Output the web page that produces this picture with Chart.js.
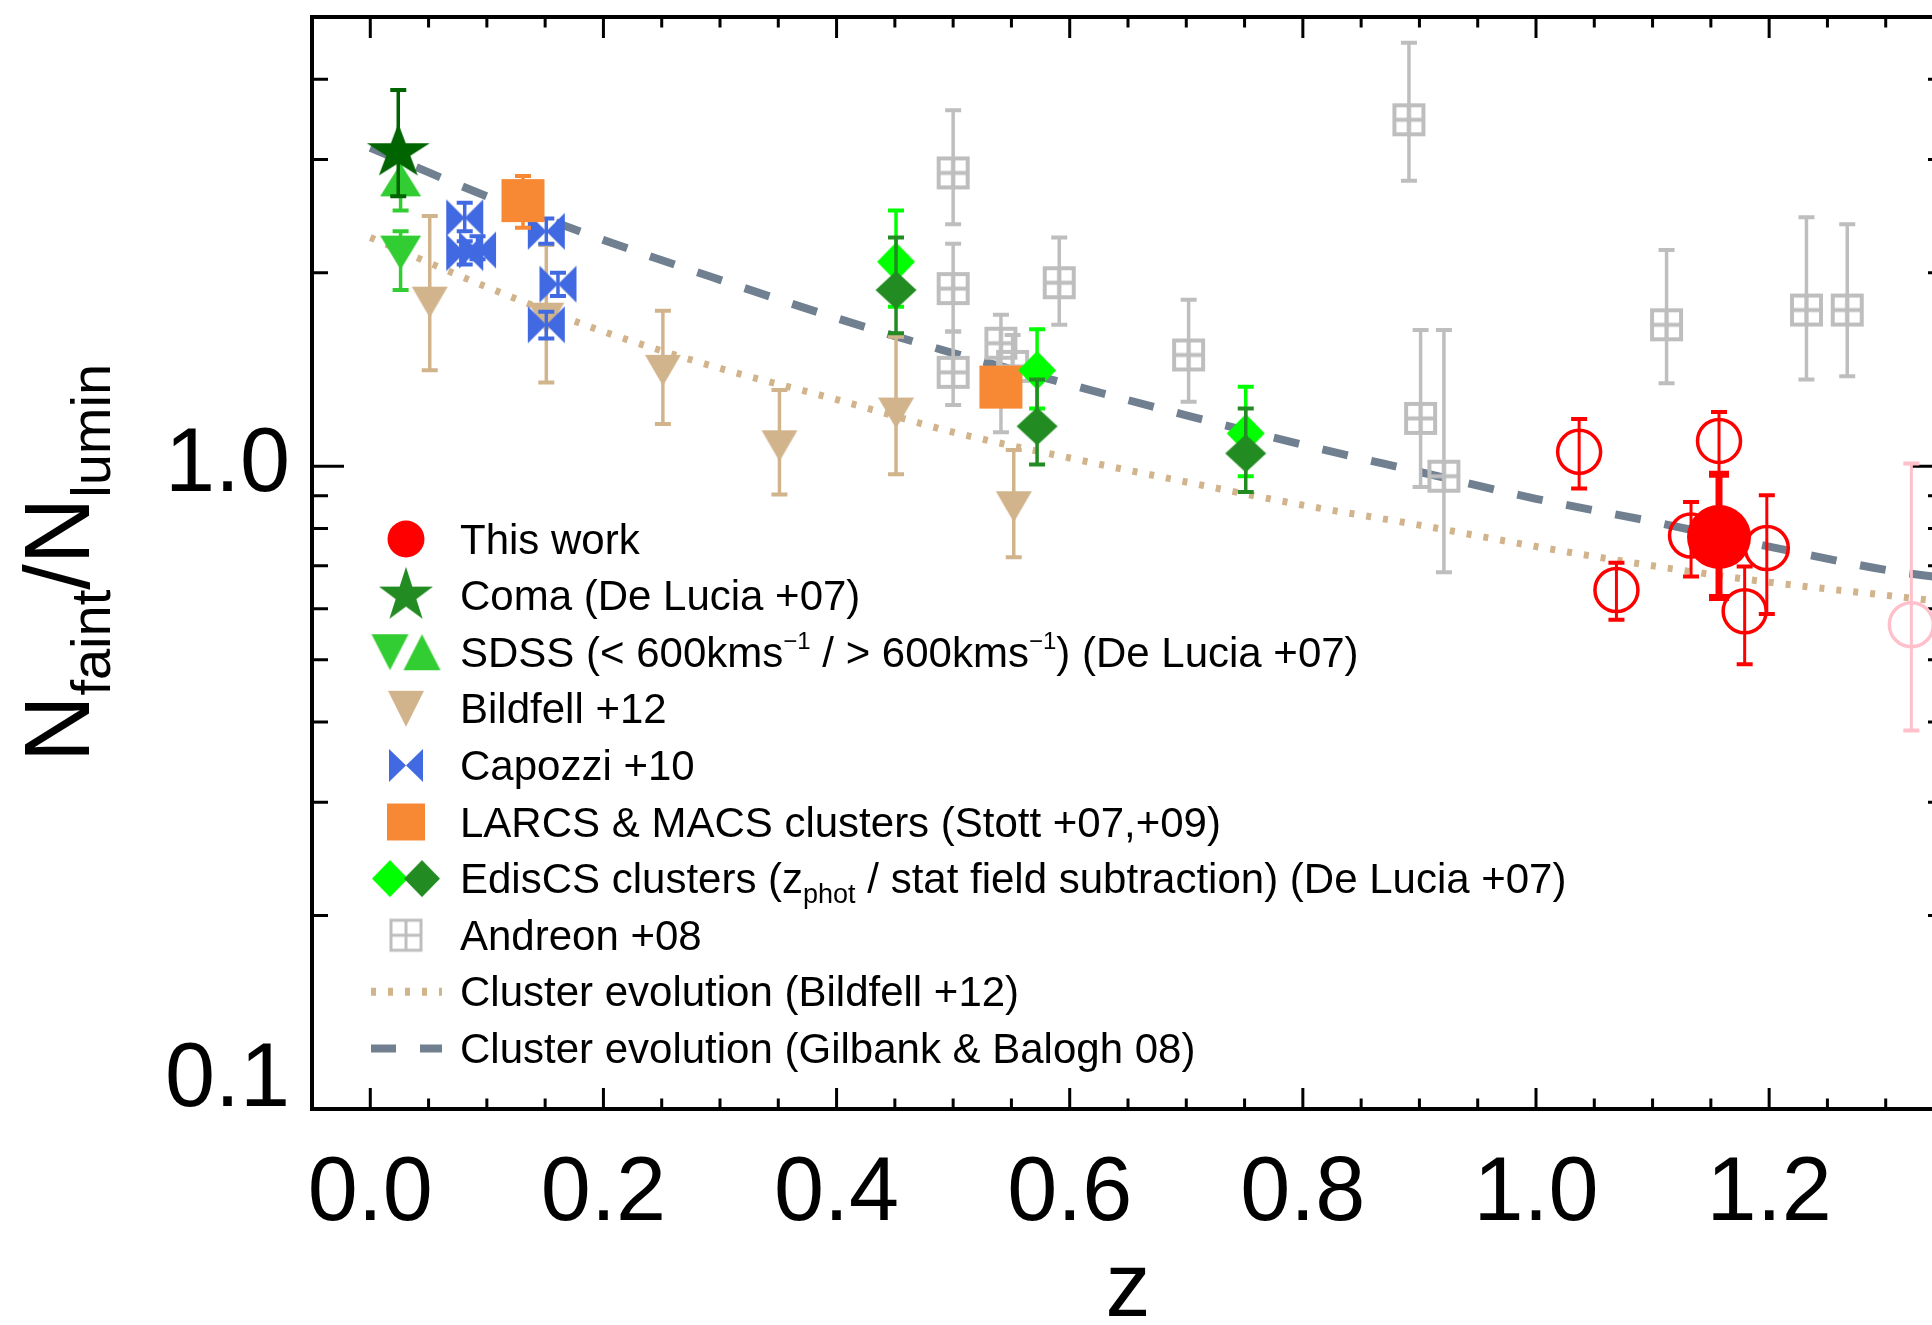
<!DOCTYPE html>
<html>
<head>
<meta charset="utf-8">
<title>Nfaint/Nlumin vs z</title>
<script src="https://cdn.jsdelivr.net/npm/chart.js@4.4.1/dist/chart.umd.min.js"></script>
<style>
  html, body { margin: 0; padding: 0; background: #fff; overflow: hidden; }
</style>
</head>
<body>
<canvas id="myChart" width="1990" height="1345"></canvas>
<script>
// values (z, ratio, lower / upper error bar ends)
const thisWorkZ = [1.157];
const thisWorkV = [0.776];
const thisWorkLo = [0.625];
const thisWorkHi = [0.972];

const clustersZ = [1.037, 1.069, 1.157, 1.133, 1.198, 1.179];
const clustersV = [1.053, 0.642, 1.095, 0.780, 0.746, 0.595];
const clustersLo = [0.923, 0.577, 0.975, 0.674, 0.589, 0.492];
const clustersHi = [1.184, 0.708, 1.215, 0.880, 0.901, 0.698];

const pinkZ = [1.322];
const pinkV = [0.567];
const pinkLo = [0.388];
const pinkHi = [1.01];

const comaZ = [0.024];
const comaV = [3.08];
const comaLo = [2.63];
const comaHi = [3.85];

const sdssLowZ = [0.026];
const sdssLowV = [2.15];
const sdssLowLo = [1.88];
const sdssLowHi = [2.32];

const sdssHighZ = [0.026];
const sdssHighV = [2.79];
const sdssHighLo = [2.50];
const sdssHighHi = [3.10];

const bildfellZ = [0.051, 0.151, 0.251, 0.351, 0.451, 0.552];
const bildfellV = [1.80, 1.70, 1.41, 1.076, 1.21, 0.865];
const bildfellLo = [1.41, 1.35, 1.163, 0.904, 0.972, 0.722];
const bildfellHi = [2.45, 2.21, 1.745, 1.314, 1.59, 1.06];

const capozziZ = [0.081, 0.081, 0.092, 0.151, 0.161, 0.151];
const capozziV = [2.435, 2.15, 2.17, 2.32, 1.92, 1.66];
const capozziLo = [2.32, 2.06, 2.10, 2.22, 1.84, 1.58];
const capozziHi = [2.57, 2.24, 2.28, 2.43, 2.00, 1.74];

const larcsZ = [0.131, 0.541];
const larcsV = [2.59, 1.328];
const larcsLo = [2.35, 1.25];
const larcsHi = [2.83, 1.41];

const edisPhotZ = [0.451, 0.572, 0.751];
const edisPhotV = [2.08, 1.41, 1.125];
const edisPhotLo = [1.77, 1.23, 0.965];
const edisPhotHi = [2.50, 1.634, 1.33];

const edisStatZ = [0.451, 0.572, 0.751];
const edisStatV = [1.88, 1.154, 1.047];
const edisStatLo = [1.61, 1.006, 0.912];
const edisStatHi = [2.27, 1.365, 1.23];

const andreonZ = [0.50, 0.50, 0.50, 0.541, 0.551, 0.591, 0.702, 0.891, 0.901, 0.921, 1.112, 1.232, 1.267];
const andreonV = [2.86, 1.89, 1.40, 1.554, 1.43, 1.93, 1.49, 3.46, 1.187, 0.965, 1.66, 1.75, 1.75];
const andreonLo = [2.38, 1.62, 1.245, 1.13, 1.30, 1.66, 1.26, 2.78, 0.928, 0.684, 1.346, 1.365, 1.38];
const andreonHi = [3.58, 2.22, 1.62, 1.72, 1.60, 2.27, 1.815, 4.56, 1.63, 1.63, 2.17, 2.44, 2.38];

// evolution curves, read at these redshifts
const curveZ = [0, 0.1, 0.2, 0.3, 0.4, 0.5, 0.6, 0.7, 0.8, 0.9, 1.0, 1.1, 1.2, 1.3, 1.35];
const gilbankV = [3.13, 2.63, 2.25, 1.95, 1.70, 1.50, 1.34, 1.20, 1.08, 0.98, 0.89, 0.82, 0.75, 0.69, 0.67];
const bildfellFitV = [2.27, 1.90, 1.62, 1.42, 1.27, 1.13, 1.03, 0.945, 0.87, 0.81, 0.75, 0.70, 0.66, 0.63, 0.615];

// axes
const zMajor = [0, 0.2, 0.4, 0.6, 0.8, 1.0, 1.2];
const zLabels = ['0.0', '0.2', '0.4', '0.6', '0.8', '1.0', '1.2'];
const zMinor = [0.05, 0.1, 0.15, 0.25, 0.3, 0.35, 0.45, 0.5, 0.55, 0.65, 0.7, 0.75, 0.85, 0.9, 0.95, 1.05, 1.1, 1.15, 1.25, 1.3];
const yMajor = [0.1, 1];
const yLabels = ['0.1', '1.0'];
const yMinor = [0.2, 0.3, 0.4, 0.5, 0.6, 0.7, 0.8, 0.9, 2, 3, 4];

const FONT = '"Liberation Sans", Arial, Helvetica, sans-serif';

const RED = '#FF0000', PINK = '#FFC0CB', DKGREEN = '#006400', FOREST = '#228B22',
      LIMEGREEN = '#32CD32', LIME = '#00FF00', TAN = '#D2B48C', BLUE = '#4169E1',
      ORANGE = '#F78935', SILVER = '#BEBEBE', SLATE = '#708090';

function pts(zs, vs) {
  return zs.map((z, i) => ({x: z, y: vs[i]}));
}

// small canvases used as point symbols
function symbol(shape, w, h, color, lw) {
  const pad = 4;
  const c = document.createElement('canvas');
  c.width = Math.round(w + 2 * pad);
  c.height = Math.round(h + 2 * pad);
  const g = c.getContext('2d');
  g.translate(c.width / 2, c.height / 2);
  const hw = w / 2, hh = h / 2;
  g.fillStyle = color;
  g.strokeStyle = color;
  g.beginPath();
  if (shape === 'triDown') {
    g.moveTo(-hw, -hh); g.lineTo(hw, -hh); g.lineTo(0, hh); g.closePath();
  } else if (shape === 'triUp') {
    g.moveTo(-hw, hh); g.lineTo(hw, hh); g.lineTo(0, -hh); g.closePath();
  } else if (shape === 'bowtie') {
    g.moveTo(-hw, -hh); g.lineTo(0, 0); g.lineTo(-hw, hh); g.closePath();
    g.moveTo(hw, -hh); g.lineTo(0, 0); g.lineTo(hw, hh); g.closePath();
  } else if (shape === 'diamond') {
    g.moveTo(0, -hh); g.lineTo(hw, 0); g.lineTo(0, hh); g.lineTo(-hw, 0); g.closePath();
  } else if (shape === 'square') {
    g.rect(-hw, -hh, w, h);
  } else if (shape === 'star') {
    const rx = w / 1.902, ry = h / 1.809;
    for (let k = 0; k < 10; k++) {
      const ang = -Math.PI / 2 + k * Math.PI / 5;
      const r = k % 2 === 0 ? 1 : 0.382;
      const px = Math.cos(ang) * r * rx, py = Math.sin(ang) * r * ry;
      if (k === 0) g.moveTo(px, py); else g.lineTo(px, py);
    }
    g.closePath();
  }
  if (shape === 'box') {
    g.lineWidth = lw;
    g.strokeRect(-hw, -hh, w, h);
    g.moveTo(0, -hh); g.lineTo(0, hh);
    g.moveTo(-hw, 0); g.lineTo(hw, 0);
    g.stroke();
  } else {
    g.fill();
  }
  return c;
}

const sym = {
  star: symbol('star', 63, 52, DKGREEN),
  sdssDown: symbol('triDown', 41, 34, LIMEGREEN),
  sdssUp: symbol('triUp', 41, 33, LIMEGREEN),
  bildfell: symbol('triDown', 36, 31, TAN),
  capozzi: symbol('bowtie', 37, 37, BLUE),
  larcs: symbol('square', 43, 43, ORANGE),
  edisPhot: symbol('diamond', 38, 39, LIME),
  edisStat: symbol('diamond', 41, 38, FOREST),
  andreon: symbol('box', 29, 29, SILVER, 4)
};
const legSym = {
  star: symbol('star', 54, 52, FOREST),
  sdssDown: symbol('triDown', 37, 36, LIMEGREEN),
  sdssUp: symbol('triUp', 37, 36, LIMEGREEN),
  bildfell: symbol('triDown', 36, 36, TAN),
  capozzi: symbol('bowtie', 34, 33, BLUE),
  larcs: symbol('square', 38, 37, ORANGE),
  edisPhot: symbol('diamond', 36, 37, LIME),
  edisStat: symbol('diamond', 36, 37, FOREST),
  andreon: symbol('box', 30, 30, SILVER, 3)
};

function scatterSet(label, zs, vs, lo, hi, style, color, order, extra) {
  return Object.assign({
    label: label,
    data: pts(zs, vs),
    errLo: lo,
    errHi: hi,
    errColor: color,
    showLine: false,
    pointStyle: style,
    pointRadius: 12,
    pointBorderWidth: 0,
    backgroundColor: color,
    borderColor: color,
    order: order
  }, extra || {});
}

const datasets = [
  {
    type: 'line', label: 'Cluster evolution (Gilbank & Balogh 08)',
    data: pts(curveZ, gilbankV),
    borderColor: SLATE, borderWidth: 8, borderDash: [26, 24],
    pointRadius: 0, fill: false, cubicInterpolationMode: 'monotone', order: 100
  },
  {
    type: 'line', label: 'Cluster evolution (Bildfell +12)',
    data: pts(curveZ, bildfellFitV),
    borderColor: TAN, borderWidth: 7, borderDash: [5, 12],
    pointRadius: 0, fill: false, cubicInterpolationMode: 'monotone', order: 99
  },
  scatterSet('Andreon +08', andreonZ, andreonV, andreonLo, andreonHi, sym.andreon, SILVER, 90),
  scatterSet('Bildfell +12', bildfellZ, bildfellV, bildfellLo, bildfellHi, sym.bildfell, TAN, 80),
  scatterSet('SDSS >600', sdssHighZ, sdssHighV, sdssHighLo, sdssHighHi, sym.sdssUp, LIMEGREEN, 75),
  scatterSet('SDSS <600', sdssLowZ, sdssLowV, sdssLowLo, sdssLowHi, sym.sdssDown, LIMEGREEN, 74),
  scatterSet('Coma', comaZ, comaV, comaLo, comaHi, sym.star, DKGREEN, 70),
  scatterSet('Capozzi +10', capozziZ, capozziV, capozziLo, capozziHi, sym.capozzi, BLUE, 60),
  scatterSet('LARCS & MACS', larcsZ, larcsV, larcsLo, larcsHi, sym.larcs, ORANGE, 50),
  scatterSet('EdisCS zphot', edisPhotZ, edisPhotV, edisPhotLo, edisPhotHi, sym.edisPhot, LIME, 40),
  scatterSet('EdisCS stat', edisStatZ, edisStatV, edisStatLo, edisStatHi, sym.edisStat, FOREST, 35),
  scatterSet('pink', pinkZ, pinkV, pinkLo, pinkHi, 'circle', PINK, 20,
    {pointRadius: 22, pointBorderWidth: 3.5, backgroundColor: 'rgba(0,0,0,0)', errWidth: 3}),
  scatterSet('clusters', clustersZ, clustersV, clustersLo, clustersHi, 'circle', RED, 10,
    {pointRadius: 21.5, pointBorderWidth: 3.5, backgroundColor: 'rgba(0,0,0,0)', errWidth: 3}),
  scatterSet('This work', thisWorkZ, thisWorkV, thisWorkLo, thisWorkHi, 'circle', RED, 1,
    {pointRadius: 32, errWidth: 7, capHalf: 10, capWidth: 7})
];

// box, inward ticks on all four sides
const framePlugin = {
  id: 'frame',
  beforeDatasetsDraw(chart) {
    const {ctx, chartArea: a, scales: {x, y}} = chart;
    ctx.save();
    ctx.strokeStyle = '#000';
    ctx.lineWidth = 3;
    ctx.beginPath();
    const xt = (v, len) => {
      const px = x.getPixelForValue(v);
      ctx.moveTo(px, a.bottom); ctx.lineTo(px, a.bottom - len);
      ctx.moveTo(px, a.top); ctx.lineTo(px, a.top + len);
    };
    const yt = (v, len) => {
      const py = y.getPixelForValue(v);
      ctx.moveTo(a.left, py); ctx.lineTo(a.left + len, py);
      ctx.moveTo(a.right, py); ctx.lineTo(a.right - len, py);
    };
    zMajor.forEach(v => xt(v, 21));
    zMinor.forEach(v => xt(v, 10.5));
    yMajor.forEach(v => yt(v, 32));
    yMinor.forEach(v => yt(v, 16));
    ctx.stroke();
    ctx.lineWidth = 4;
    ctx.strokeRect(a.left, a.top, a.right - a.left, a.bottom - a.top);
    ctx.restore();
  }
};

// vertical error bars with caps
const errorBarPlugin = {
  id: 'errorBars',
  afterDatasetDraw(chart, args) {
    const ds = chart.data.datasets[args.index];
    if (!ds.errLo) return;
    const {ctx, chartArea: a, scales: {x, y}} = chart;
    const capHalf = ds.capHalf || 8;
    ctx.save();
    ctx.beginPath();
    ctx.rect(a.left, a.top, a.right - a.left, a.bottom - a.top);
    ctx.clip();
    ctx.strokeStyle = ds.errColor;
    ds.data.forEach((p, i) => {
      const px = x.getPixelForValue(p.x);
      const yl = y.getPixelForValue(ds.errLo[i]);
      const yh = y.getPixelForValue(ds.errHi[i]);
      ctx.lineWidth = ds.errWidth || 3.5;
      ctx.beginPath();
      ctx.moveTo(px, yl); ctx.lineTo(px, yh);
      ctx.stroke();
      ctx.lineWidth = ds.capWidth || 4;
      ctx.beginPath();
      ctx.moveTo(px - capHalf, yl); ctx.lineTo(px + capHalf, yl);
      ctx.moveTo(px - capHalf, yh); ctx.lineTo(px + capHalf, yh);
      ctx.stroke();
    });
    ctx.restore();
  }
};

const legendRows = [
  {marks: [['dot', RED]], text: [['This work']]},
  {marks: [[legSym.star]], text: [['Coma (De Lucia +07)']]},
  {marks: [[legSym.sdssDown, -16], [legSym.sdssUp, 16]],
   text: [['SDSS (< 600kms'], ['\u22121', 'sup'], [' / > 600kms'], ['\u22121', 'sup'], [') (De Lucia +07)']]},
  {marks: [[legSym.bildfell]], text: [['Bildfell +12']]},
  {marks: [[legSym.capozzi]], text: [['Capozzi +10']]},
  {marks: [[legSym.larcs]], text: [['LARCS & MACS clusters (Stott +07,+09)']]},
  {marks: [[legSym.edisPhot, -16], [legSym.edisStat, 16]],
   text: [['EdisCS clusters (z'], ['phot', 'sub'], [' / stat field subtraction) (De Lucia +07)']]},
  {marks: [[legSym.andreon]], text: [['Andreon +08']]},
  {marks: [['line', TAN, 8, [5, 12]]], text: [['Cluster evolution (Bildfell +12)']]},
  {marks: [['line', SLATE, 8, [25, 24]]], text: [['Cluster evolution (Gilbank & Balogh 08)']]}
];

const legendPlugin = {
  id: 'richLegend',
  afterDraw(chart) {
    const {ctx, chartArea: a} = chart;
    const mx = a.left + 94, tx = a.left + 148;
    ctx.save();
    legendRows.forEach((row, i) => {
      const ry = a.top + 522 + i * 56.6;
      row.marks.forEach(m => {
        if (m[0] === 'dot') {
          ctx.fillStyle = m[1];
          ctx.beginPath();
          ctx.arc(mx, ry, 18.5, 0, Math.PI * 2);
          ctx.fill();
        } else if (m[0] === 'line') {
          ctx.strokeStyle = m[1];
          ctx.lineWidth = m[2];
          ctx.setLineDash(m[3]);
          ctx.beginPath();
          ctx.moveTo(mx - 35, ry); ctx.lineTo(mx + 36, ry);
          ctx.stroke();
          ctx.setLineDash([]);
        } else {
          const c = m[0], dx = m[1] || 0;
          ctx.drawImage(c, mx + dx - c.width / 2, ry - c.height / 2);
        }
      });
      ctx.fillStyle = '#000';
      ctx.textBaseline = 'alphabetic';
      ctx.textAlign = 'left';
      let x = tx;
      row.text.forEach(([t, kind]) => {
        let size = 42, dy = 14.5;
        if (kind === 'sup') { size = 24; dy = -3.5; }
        if (kind === 'sub') { size = 27; dy = 24; }
        ctx.font = size + 'px ' + FONT;
        ctx.fillText(t, x, ry + dy);
        x += ctx.measureText(t).width;
      });
    });

    // y axis title with subscripts
    const parts = [['N', 92, 0], ['faint', 56, 21], ['/N', 92, 0], ['lumin', 56, 21]];
    let total = 0;
    parts.forEach(p => { ctx.font = p[1] + 'px ' + FONT; total += ctx.measureText(p[0]).width; });
    ctx.translate(89, (a.top + a.bottom) / 2);
    ctx.rotate(-Math.PI / 2);
    let x = -total / 2;
    parts.forEach(p => {
      ctx.font = p[1] + 'px ' + FONT;
      ctx.fillText(p[0], x, p[2]);
      x += ctx.measureText(p[0]).width;
    });
    ctx.restore();
  }
};

Chart.defaults.font.family = FONT;
Chart.defaults.color = '#000';

const ctx = document.getElementById('myChart');

new Chart(ctx, {
  type: 'scatter',
  data: { datasets: datasets },
  options: {
    responsive: false,
    animation: false,
    layout: { autoPadding: false, padding: { top: 17, right: 46, left: 0, bottom: 0 } },
    plugins: {
      legend: { display: false },
      tooltip: { enabled: false }
    },
    scales: {
      x: {
        type: 'linear',
        min: -0.05,
        max: 1.35,
        grid: { display: false, drawTicks: false },
        border: { display: false },
        afterBuildTicks: s => { s.ticks = zMajor.map(v => ({value: v})); },
        afterFit: s => { s.height = 236; s.paddingLeft = 0; s.paddingRight = 0; },
        ticks: {
          padding: 32,
          autoSkip: false,
          maxRotation: 0,
          color: '#000',
          font: { size: 90 },
          callback: (v, i) => zLabels[i]
        },
        title: {
          display: true,
          text: 'z',
          color: '#000',
          font: { size: 90 },
          padding: 0
        }
      },
      y: {
        type: 'logarithmic',
        min: 0.1,
        max: 5,
        grid: { display: false, drawTicks: false },
        border: { display: false },
        afterBuildTicks: s => { s.ticks = yMajor.map(v => ({value: v})); },
        afterFit: s => { s.width = 312; s.paddingTop = 0; s.paddingBottom = 0; },
        ticks: {
          padding: 22,
          autoSkip: false,
          color: '#000',
          // the bottom label sits a little above its tick in the original
          font: c => c.index === 0 ? { size: 90, lineHeight: 0.62 } : { size: 90 },
          callback: (v, i) => i === 0 ? [yLabels[i], ''] : yLabels[i]
        }
      }
    }
  },
  plugins: [framePlugin, errorBarPlugin, legendPlugin]
});
</script>
</body>
</html>
